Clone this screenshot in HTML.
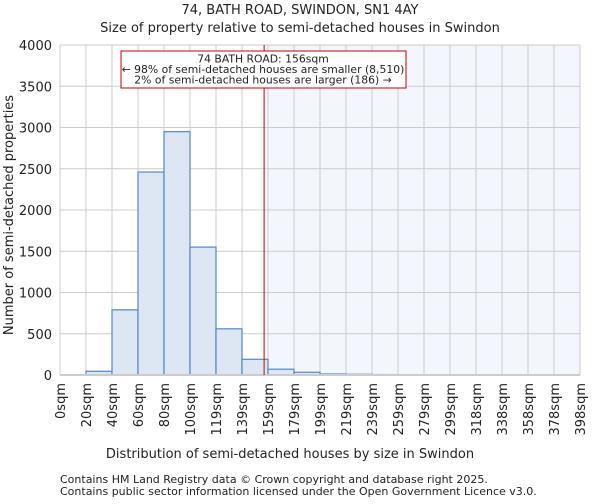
<!DOCTYPE html>
<html><head><meta charset="utf-8"><style>
body{margin:0;background:#fff;font-family:"DejaVu Sans","Liberation Sans",sans-serif;}
svg text{font-family:"DejaVu Sans","Liberation Sans",sans-serif;fill:#222;}
</style></head><body>
<svg id="chart" width="600" height="500">
<text x="300" y="14" text-anchor="middle" font-size="13">74, BATH ROAD, SWINDON, SN1 4AY</text>
<text x="300" y="32" text-anchor="middle" font-size="13">Size of property relative to semi-detached houses in Swindon</text>
<g id="plot"></g>
<text x="290" y="458" text-anchor="middle" font-size="13">Distribution of semi-detached houses by size in Swindon</text>
<text transform="translate(13,215) rotate(-90)" text-anchor="middle" font-size="13">Number of semi-detached properties</text>
<text x="60" y="483" font-size="11">Contains HM Land Registry data © Crown copyright and database right 2025.</text>
<text x="60" y="495" font-size="11">Contains public sector information licensed under the Open Government Licence v3.0.</text>
</svg>
<script>
const binLabels=["0sqm","20sqm","40sqm","60sqm","80sqm","100sqm","119sqm","139sqm","159sqm","179sqm","199sqm","219sqm","239sqm","259sqm","279sqm","299sqm","318sqm","338sqm","358sqm","378sqm","398sqm"];
const counts=[0,45,790,2460,2950,1550,560,190,70,33,12,8,5,3,0,0,0,0,0,0];
const yTicks=[0,500,1000,1500,2000,2500,3000,3500,4000];
const propertyBin=7.85;
const NS="http://www.w3.org/2000/svg";
const L=60,R=580,T=45,B=375,yMax=4000;
const bw=(R-L)/counts.length;
const x=i=>L+i*bw;
const y=v=>B-(v/yMax)*(B-T);
const g=document.getElementById('plot');
function mk(t,a){const e=document.createElementNS(NS,t);for(const k in a)e.setAttribute(k,a[k]);g.appendChild(e);return e;}
let e=mk('rect',{x:L,y:T,width:R-L,height:B-T,fill:'#fff'});

const mx=x(propertyBin);
e=mk('rect',{x:mx,y:T,width:R-mx,height:B-T,fill:'#f4f6fd'});

for(let i=0;i<=counts.length;i++){e=mk('line',{x1:x(i),x2:x(i),y1:T,y2:B,stroke:'#ccc','stroke-width':1});
}
yTicks.forEach(v=>{e=mk('line',{x1:L,x2:R,y1:y(v),y2:y(v),stroke:'#ccc','stroke-width':1});

const t=mk('text',{x:L-8,y:y(v)+5,'text-anchor':'end','font-size':13});t.textContent=v;
});
counts.forEach((c,i)=>{if(c<=0)return;e=mk('rect',{x:x(i),y:y(c),width:bw,height:B-y(c),fill:'#dde6f3',stroke:'#5b8fd0','stroke-width':1.3});
});
e=mk('line',{x1:L,x2:R,y1:B,y2:B,stroke:'#ccc','stroke-width':2});

binLabels.forEach((l,i)=>{const t=mk('text',{transform:`translate(${x(i)+5},${B+8}) rotate(-90)`,'text-anchor':'end','font-size':13});t.textContent=l;
});
e=mk('line',{x1:mx,x2:mx,y1:T,y2:B,stroke:'#cc0000','stroke-width':1});

e=mk('rect',{x:121,y:51,width:285,height:37,fill:'#fff',stroke:'#cc0000','stroke-width':1});

["74 BATH ROAD: 156sqm","← 98% of semi-detached houses are smaller (8,510)","2% of semi-detached houses are larger (186) →"].forEach((s,i)=>{
const t=mk('text',{x:263,y:62.5+i*10.5,'text-anchor':'middle','font-size':10.8});t.textContent=s;
});
</script>
</body></html>
